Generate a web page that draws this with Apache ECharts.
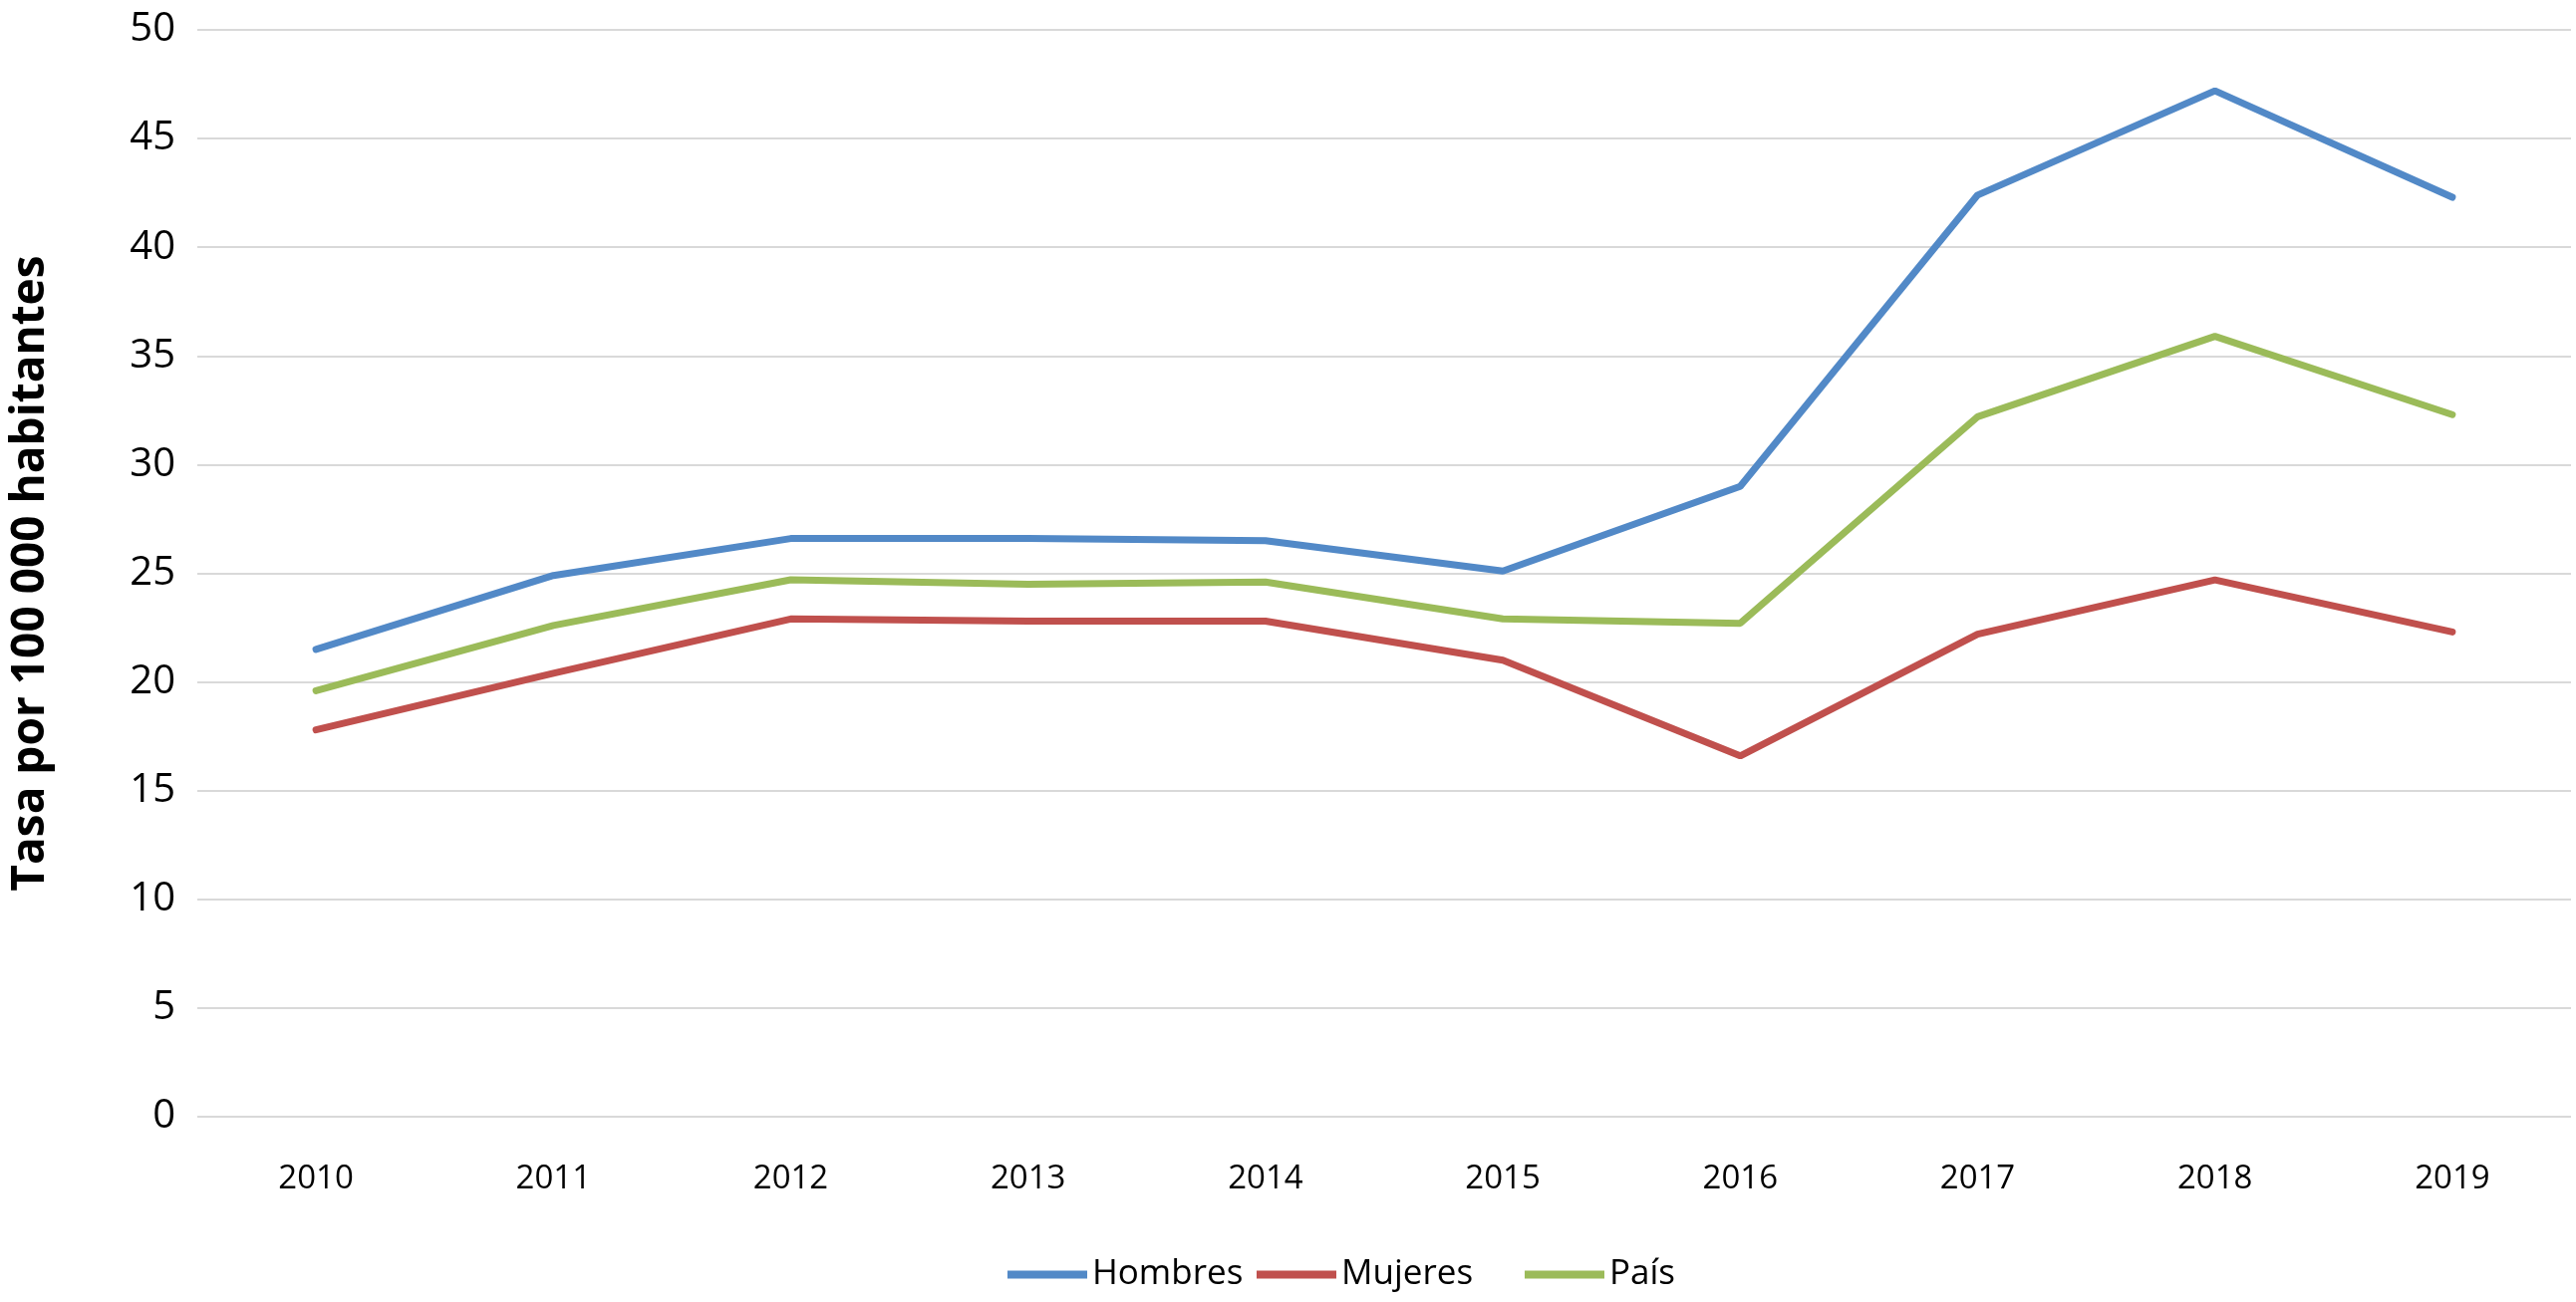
<!DOCTYPE html>
<html>
<head>
<meta charset="utf-8">
<script src="https://cdn.jsdelivr.net/npm/echarts@6/dist/echarts.min.js"></script>
<style>
  html, body { margin: 0; padding: 0; background: #fff; }
  #chart { width: 2585px; height: 1307px; }
</style>
</head>
<body>
<div id="chart"></div>
<script>
const years = ['2010','2011','2012','2013','2014','2015','2016','2017','2018','2019'];
const hombres = [21.5, 24.9, 26.6, 26.6, 26.5, 25.1, 29.0, 42.4, 47.2, 42.3];
const mujeres = [17.8, 20.4, 22.9, 22.8, 22.8, 21.0, 16.6, 22.2, 24.7, 22.3];
const pais    = [19.6, 22.6, 24.7, 24.5, 24.6, 22.9, 22.7, 32.2, 35.9, 32.3];
const seriesNames = ['Hombres', 'Mujeres', 'País'];
const colors = ['#5289C7', '#C0504D', '#9BBB59'];
const yTitle = 'Tasa por 100 000 habitantes';

const chart = echarts.init(document.getElementById('chart'), null, { renderer: 'canvas' });
const font = '"Open Sans", "Noto Sans", sans-serif';

function legendFor(name, left) {
  return {
    data: [name],
    left: left,
    top: 1257,
    itemWidth: 80,
    itemHeight: 14,
    itemGap: 10,
    textStyle: { fontFamily: font, fontSize: 35, color: '#000' },
    icon: 'path://M0,0 L80,0 L80,8 L0,8 Z',
    selectedMode: false
  };
}

const option = {
  backgroundColor: '#fff',
  animation: false,
  color: colors,
  grid: { left: 186, right: 5, top: 30, bottom: 186, containLabel: false },
  legend: [
    legendFor(seriesNames[0], 1006),
    legendFor(seriesNames[1], 1256),
    legendFor(seriesNames[2], 1525)
  ],
  xAxis: {
    type: 'category',
    data: years,
    boundaryGap: true,
    axisLine: { show: false },
    axisTick: { show: false },
    axisLabel: { fontFamily: font, fontSize: 33, color: '#000', margin: 46 }
  },
  yAxis: {
    type: 'value',
    min: 0,
    max: 50,
    interval: 5,
    name: yTitle,
    nameLocation: 'middle',
    nameRotate: 90,
    nameGap: 144,
    nameTextStyle: { fontFamily: font, fontSize: 46, fontWeight: 'bold', color: '#000' },
    axisLine: { show: false },
    axisTick: { show: false },
    axisLabel: { fontFamily: font, fontSize: 40, color: '#000', margin: 22 },
    splitLine: { lineStyle: { color: '#d9d9d9', width: 2 } }
  },
  series: [
    { name: seriesNames[0], type: 'line', data: hombres, showSymbol: false, lineStyle: { width: 7, color: colors[0], cap: 'round' }, itemStyle: { color: colors[0] } },
    { name: seriesNames[1], type: 'line', data: mujeres, showSymbol: false, lineStyle: { width: 7, color: colors[1], cap: 'round' }, itemStyle: { color: colors[1] } },
    { name: seriesNames[2], type: 'line', data: pais, showSymbol: false, lineStyle: { width: 7, color: colors[2], cap: 'round' }, itemStyle: { color: colors[2] } }
  ]
};
chart.setOption(option);
</script>
</body>
</html>
